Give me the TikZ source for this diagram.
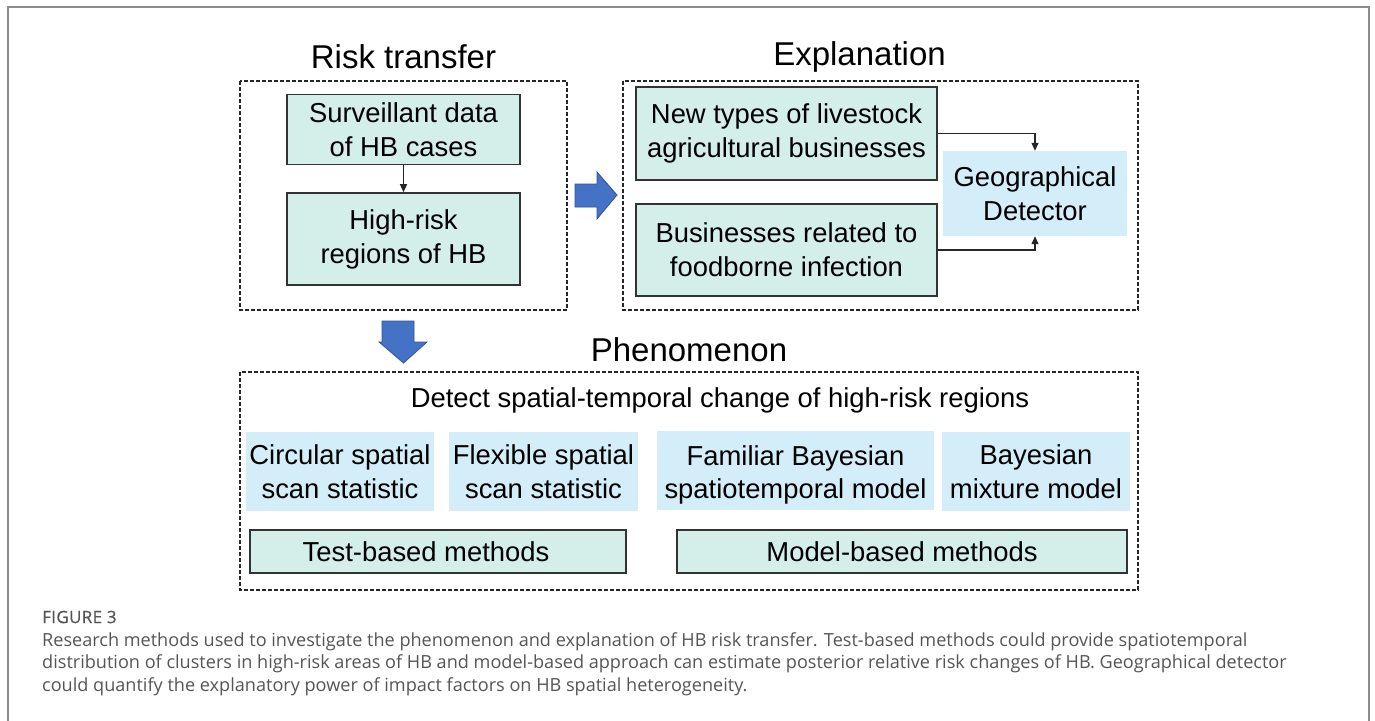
\documentclass[tikz,border=0pt]{standalone}
\usepackage{fontspec}
\setmainfont{Liberation Sans}
\newfontfamily\capfont{Open Sans}
\newfontfamily\figfont[FakeBold=0.6, LetterSpace=2]{Open Sans}
\usetikzlibrary{arrows.meta}
\definecolor{tealfill}{HTML}{D4EEEA}
\definecolor{bluefill}{HTML}{D3EEF9}
\definecolor{arrowblue}{HTML}{4472C4}
\definecolor{arrowedge}{HTML}{2F5597}
\definecolor{framegray}{HTML}{8C8C8C}
\definecolor{capgray}{HTML}{555555}
\tikzset{
  dashbox/.style={draw=black!85, line width=1.4pt, dash pattern=on 4pt off 2pt},
  tealbox/.style={draw=black!80, line width=1.6pt, fill=tealfill, align=center, inner sep=0pt},
  bluebox/.style={fill=bluefill, align=center, inner sep=0pt},
  txt/.style={font=\fontsize{27.4}{34}\selectfont},
  ttl/.style={font=\fontsize{33}{38}\selectfont},
  conn/.style={draw=black!85, line width=1.3pt, -{Triangle[length=8pt,width=7pt]}},
  bigarrow/.style={fill=arrowblue, draw=arrowedge, line width=0.8pt},
}
\begin{document}
\begin{tikzpicture}[x=1pt,y=-1pt]
\useasboundingbox (0,0) rectangle (1375,720);
% outer frame
\draw[framegray, line width=2pt] (8,722) -- (8,6.5) -- (1369,6.5) -- (1369,722);

% titles
\node[ttl] (t1) at (403.5,57) {Risk transfer};
\node[ttl] (t2) at (859.5,57) {Explanation};
\node[ttl] (t3) at (689,350) {Phenomenon};

% dashed groups
\draw[dashbox] (240,81) rectangle (567,310);
\draw[dashbox] (623,81) rectangle (1138,310);
\draw[dashbox] (240,372) rectangle (1138,590);

% risk transfer
\node[tealbox, txt, minimum width=233pt, minimum height=70pt] (surv) at (403.5,129.5) {Surveillant data\\of HB cases};
\node[tealbox, txt, minimum width=233pt, minimum height=92pt] (high) at (403.5,239) {High-risk\\regions of HB};
\draw[conn] (surv.south) -- (high.north);

% explanation
\node[tealbox, txt, minimum width=301pt, minimum height=93pt] (newt) at (786.5,133.5) {New types of livestock\\agricultural businesses};
\node[tealbox, txt, minimum width=301pt, minimum height=92pt] (bus) at (786.5,250) {Businesses related to\\foodborne infection};
\node[bluebox, txt, minimum width=184pt, minimum height=85pt] (geo) at (1035,193.5) {Geographical\\Detector};
\draw[conn] (newt.east) -| (geo.north);
\draw[conn] (bus.east) -| (geo.south);

% blue arrows
\draw[bigarrow] (575,184) -- (597,184) -- (597,172) -- (617,195) -- (597,219) -- (597,207) -- (575,207) -- cycle;
\draw[bigarrow] (382,321) -- (414,321) -- (414,342) -- (427,342) -- (403.5,363) -- (379,342) -- (382,342) -- cycle;

% phenomenon
\node[txt] (det) at (720,400) {Detect spatial-temporal change of high-risk regions};
\node[bluebox, txt, minimum width=188pt, minimum height=79pt] (circ) at (340,471.5) {Circular spatial\\scan statistic};
\node[bluebox, txt, minimum width=189pt, minimum height=79pt] (flex) at (543.5,471.5) {Flexible spatial\\scan statistic};
\node[bluebox, txt, minimum width=277pt, minimum height=79pt, text depth=0pt] (fam) at (795.5,470.5) {\raisebox{-4pt}{Familiar Bayesian}\\\raisebox{-3pt}{spatiotemporal model}};
\node[bluebox, txt, minimum width=188pt, minimum height=79pt] (mix) at (1036,471.5) {Bayesian\\mixture model};
\node[tealbox, txt, minimum width=376pt, minimum height=43pt] (test) at (438,551.5) {Test-based methods\hspace*{24pt}};
\node[tealbox, txt, minimum width=450pt, minimum height=43pt] (model) at (902,551.5) {Model-based methods};

% caption
\node[anchor=west, text=capgray, inner sep=0pt, font=\figfont\fontsize{17}{20}\selectfont] (fig) at (42,617) {FIGURE 3};
\node[anchor=north west, text=capgray, align=left, inner sep=0pt, font=\capfont\fontsize{18.1}{22.6}\selectfont] (cap) at (42,632)
{Research methods used to investigate the phenomenon and explanation of HB risk transfer. Test-based methods could provide spatiotemporal\\
distribution of clusters in high-risk areas of HB and model-based approach can estimate posterior relative risk changes of HB. Geographical detector\\
could quantify the explanatory power of impact factors on HB spatial heterogeneity.};
\end{tikzpicture}
\end{document}
